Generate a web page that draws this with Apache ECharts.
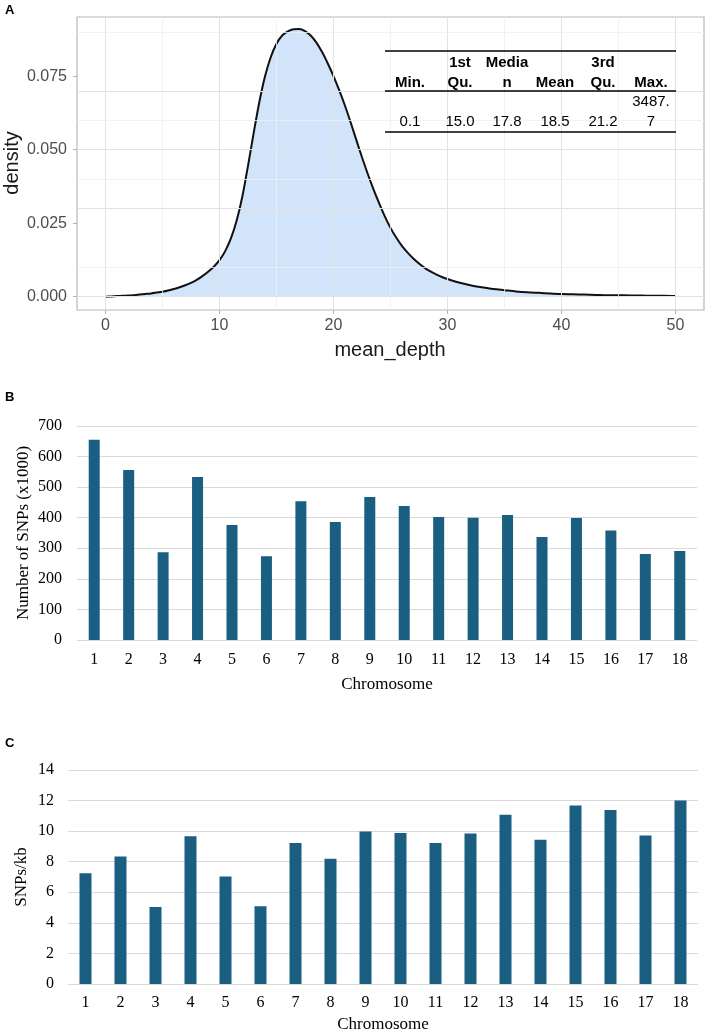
<!DOCTYPE html>
<html>
<head>
<meta charset="utf-8">
<script src="https://cdn.jsdelivr.net/npm/echarts@6/dist/echarts.min.js"></script>
<style>
html,body{margin:0;padding:0;background:#fff;}
#chart{width:710px;height:1034px;}
</style>
</head>
<body>
<div id="chart"></div>
<script>
// ---------- Panel A data ----------
const depthX = [0,0.5,1,1.5,2,2.5,3,3.5,4,4.5,5,5.5,6,6.5,7,7.5,8,8.5,9,9.5,10,10.5,11,11.5,12,12.5,13,13.5,14,14.5,15,15.5,16,16.5,17,17.5,18,18.5,19,19.5,20,20.5,21,21.5,22,22.5,23,23.5,24,24.5,25,25.5,26,26.5,27,27.5,28,28.5,29,29.5,30,31,32,33,34,35,36,37,38,39,40,41,42,43,44,45,46,47,48,49,50];
const densityY = [0.0000,0.0001,0.0002,0.0003,0.0004,0.0005,0.0007,0.0009,0.0011,0.0014,0.0017,0.0021,0.0026,0.0032,0.0039,0.0047,0.0057,0.0070,0.0085,0.0102,0.0124,0.0155,0.0198,0.0258,0.0340,0.0445,0.0557,0.0663,0.0750,0.0815,0.0860,0.0888,0.0902,0.0909,0.0910,0.0903,0.0888,0.0864,0.0832,0.0793,0.0750,0.0702,0.0650,0.0593,0.0533,0.0474,0.0418,0.0366,0.0318,0.0273,0.0234,0.0201,0.0173,0.0150,0.0130,0.0113,0.0098,0.0086,0.0076,0.0067,0.0060,0.0048,0.0039,0.0032,0.0026,0.0022,0.0018,0.0015,0.0013,0.0011,0.0009,0.0008,0.0007,0.0006,0.0005,0.0005,0.0004,0.0004,0.0003,0.0003,0.0002];
const xTicksA = [0,10,20,30,40,50];
const xMinorA = [5,15,25,35,45];
const yTicksA = [0,0.025,0.05,0.075];
const yMinorA = [0.0125,0.0375,0.0625,0.0875];
const tableHead1 = ["", "1st", "Media", "", "3rd", ""];
const tableHead2 = ["Min.", "Qu.", "n", "Mean", "Qu.", "Max."];
const tableRow1 = ["", "", "", "", "", "3487."];
const tableRow2 = ["0.1", "15.0", "17.8", "18.5", "21.2", "7"];

// ---------- Panel B / C data ----------
const chromosomes = ["1","2","3","4","5","6","7","8","9","10","11","12","13","14","15","16","17","18"];
const snpCount = [655,556,287,533,376,274,454,386,468,438,402,400,409,337,399,358,281,291];
const snpPerKb = [7.25,8.34,5.03,9.67,7.03,5.09,9.23,8.19,9.97,9.88,9.23,9.84,11.08,9.43,11.67,11.39,9.71,12.0];

const chart = echarts.init(document.getElementById('chart'));
const sans = '"Liberation Sans", Arial, sans-serif';
const serif = '"Liberation Serif", "Times New Roman", serif';
const barColor = '#1A5F82';

const major = {color: '#E2E2E2', width: 1, type: 'solid'};
const minor = {color: '#EFEFEF', width: 0.8, type: 'solid'};
const gridLineData = []
  .concat(xTicksA.map(v => ({xAxis: v, lineStyle: major})))
  .concat(xMinorA.map(v => ({xAxis: v, lineStyle: minor})))
  .concat(yTicksA.map(v => ({yAxis: v, lineStyle: major})))
  .concat(yMinorA.map(v => ({yAxis: v, lineStyle: minor})));

// table graphic
const colX = [410, 460, 507, 555, 603, 651];
const tableGraphics = [];
function addRow(arr, y, bold) {
  arr.forEach((t, i) => {
    if (!t) return;
    tableGraphics.push({type: 'text', x: colX[i], y: y, z: 100,
      style: {text: t, textAlign: 'center', textVerticalAlign: 'middle',
        font: (bold ? 'bold ' : '') + '15px ' + sans, fill: '#000'}});
  });
}
addRow(tableHead1, 63, true);
addRow(tableHead2, 83, true);
addRow(tableRow1, 102, false);
addRow(tableRow2, 122, false);
[51, 91, 132].forEach(y => tableGraphics.push({type: 'line', z: 100,
  shape: {x1: 385, y1: y, x2: 676, y2: y}, style: {stroke: '#000', lineWidth: 1.5}}));

const option = {
  animation: false,
  backgroundColor: '#fff',
  grid: [
    {left: 77, top: 17, width: 627, height: 293, show: true, borderColor: '#B8B8B8', borderWidth: 1.2, backgroundColor: 'transparent'},
    {left: 77, top: 426, width: 620, height: 214},
    {left: 68, top: 770, width: 630, height: 214}
  ],
  xAxis: [
    {gridIndex: 0, type: 'value', min: -2.5, max: 52.5, position: 'bottom',
      axisLine: {show: false, onZero: false},
      axisTick: {show: true, customValues: xTicksA, length: 4, lineStyle: {color: '#B3B3B3'}},
      axisLabel: {customValues: xTicksA, color: '#4D4D4D', fontFamily: sans, fontSize: 16, margin: 8},
      splitLine: {show: false}},
    {gridIndex: 1, type: 'category', data: chromosomes,
      axisLine: {show: false}, axisTick: {show: false},
      axisLabel: {color: '#000', fontFamily: serif, fontSize: 16, margin: 12}},
    {gridIndex: 2, type: 'category', data: chromosomes,
      axisLine: {show: false}, axisTick: {show: false},
      axisLabel: {color: '#000', fontFamily: serif, fontSize: 16, margin: 11}}
  ],
  yAxis: [
    {gridIndex: 0, type: 'value', min: -0.00453, max: 0.0951, position: 'left',
      axisLine: {show: false, onZero: false},
      axisTick: {show: true, customValues: yTicksA, length: 4, lineStyle: {color: '#B3B3B3'}},
      axisLabel: {customValues: yTicksA, color: '#4D4D4D', fontFamily: sans, fontSize: 16, margin: 10,
        formatter: v => Number(v).toFixed(3)},
      splitLine: {show: false}},
    {gridIndex: 1, type: 'value', min: 0, max: 700, interval: 100,
      axisLine: {show: false}, axisTick: {show: false},
      axisLabel: {color: '#000', fontFamily: serif, fontSize: 16, margin: 15},
      splitLine: {lineStyle: {color: '#D9D9D9', width: 1}}},
    {gridIndex: 2, type: 'value', min: 0, max: 14, interval: 2,
      axisLine: {show: false}, axisTick: {show: false},
      axisLabel: {color: '#000', fontFamily: serif, fontSize: 16, margin: 14},
      splitLine: {lineStyle: {color: '#D9D9D9', width: 1}}}
  ],
  series: [
    {type: 'line', xAxisIndex: 0, yAxisIndex: 0, data: [], z: 1, silent: true,
      markLine: {silent: true, symbol: ['none', 'none'], label: {show: false}, animation: false,
        data: gridLineData}},
    {type: 'line', xAxisIndex: 0, yAxisIndex: 0, z: 3,
      data: depthX.map((x, i) => [x, densityY[i]]),
      smooth: 0.3, showSymbol: false, symbol: 'none',
      lineStyle: {color: '#111', width: 2},
      areaStyle: {color: 'rgba(140,186,243,0.56)'}},
    {type: 'bar', xAxisIndex: 1, yAxisIndex: 1, data: snpCount, barWidth: 11,
      itemStyle: {color: barColor}},
    {type: 'bar', xAxisIndex: 2, yAxisIndex: 2, data: snpPerKb, barWidth: 12,
      itemStyle: {color: barColor}}
  ],
  graphic: [
    {type: 'text', x: 5, y: 4, style: {text: 'A', font: 'bold 13px ' + sans, fill: '#000'}},
    {type: 'text', x: 5, y: 391, style: {text: 'B', font: 'bold 13px ' + sans, fill: '#000'}},
    {type: 'text', x: 5, y: 737, style: {text: 'C', font: 'bold 13px ' + sans, fill: '#000'}},
    {type: 'text', x: 390, y: 350, style: {text: 'mean_depth', textAlign: 'center', textVerticalAlign: 'middle', font: '20px ' + sans, fill: '#1A1A1A'}},
    {type: 'text', x: 12, y: 163, rotation: Math.PI / 2, style: {text: 'density', textAlign: 'center', textVerticalAlign: 'middle', font: '20px ' + sans, fill: '#1A1A1A'}},
    {type: 'text', x: 387, y: 685, style: {text: 'Chromosome', textAlign: 'center', textVerticalAlign: 'middle', font: '17px ' + serif, fill: '#000'}},
    {type: 'text', x: 24, y: 533, rotation: Math.PI / 2, style: {text: 'Number of SNPs (x1000)', textAlign: 'center', textVerticalAlign: 'middle', font: '17px ' + serif, fill: '#000'}},
    {type: 'text', x: 383, y: 1025, style: {text: 'Chromosome', textAlign: 'center', textVerticalAlign: 'middle', font: '17px ' + serif, fill: '#000'}},
    {type: 'text', x: 22, y: 877, rotation: Math.PI / 2, style: {text: 'SNPs/kb', textAlign: 'center', textVerticalAlign: 'middle', font: '17px ' + serif, fill: '#000'}}
  ].concat(tableGraphics)
};
chart.setOption(option);
</script>
</body>
</html>
